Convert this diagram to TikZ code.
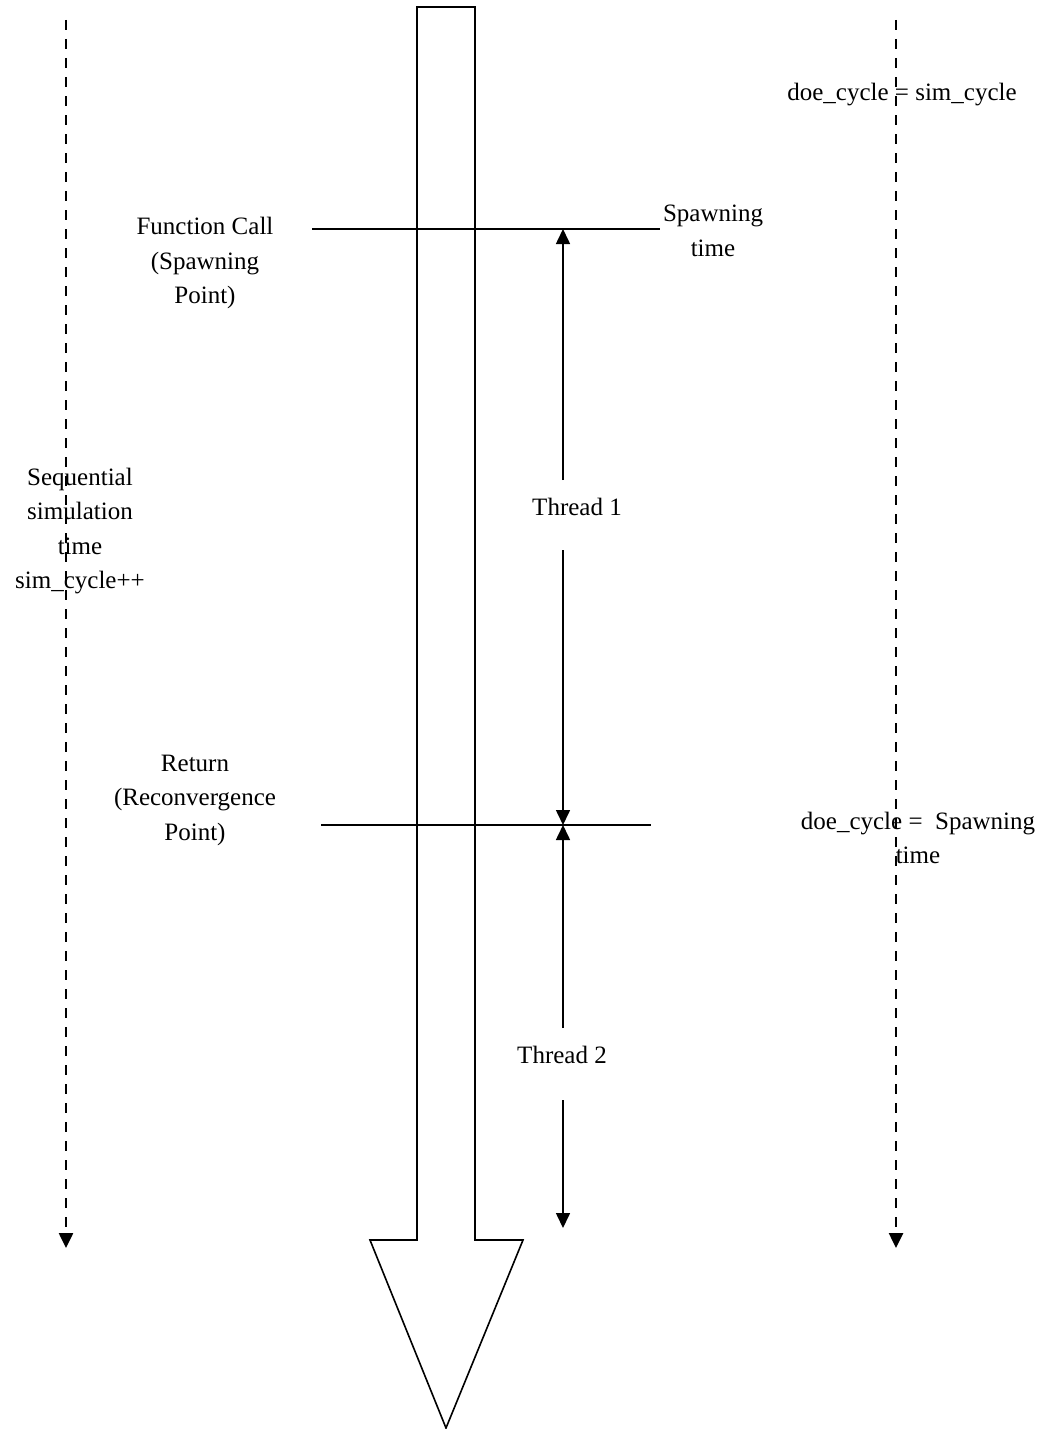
\documentclass[tikz,border=0pt]{standalone}
\usepackage{fontspec}
\setmainfont{Liberation Serif}
\usetikzlibrary{positioning, arrows.meta}

\begin{document}
\begin{tikzpicture}[x=1pt, y=-1pt, >={Triangle[length=15pt, width=14pt]},
    lbl/.style={align=center, font=\fontsize{25}{34.5}\selectfont, inner sep=0pt},
    timeline/.style={->, dash pattern=on 10pt off 9pt, line width=2.5pt},
    marker/.style={line width=1.6pt},
    arrow/.style={->, line width=1.6pt}]
    \useasboundingbox (0,0) rectangle (1052,1429);

    % labels
    \node[lbl] (call) at (205,263) {Function Call\\(Spawning\\Point)};
    \node[lbl] (spawn) at (713,231) {Spawning\\time};
    \node[lbl] (seq) at (80,531) {Sequential\\simulation\\time\\sim\_cycle++};
    \node[lbl] (ret) at (195,800) {Return\\(Reconvergence\\Point)};
    \node[lbl] (doe1) at (902,95) {doe\_cycle = sim\_cycle};
    \node[lbl] (doe2) at (918,838) {doe\_cycle =\ \ Spawning\\time};
    \node[lbl] (t1) at (577,507) {Thread 1};
    \node[lbl] (t2) at (562,1055) {Thread 2};

    % time lines
    \coordinate (seq-top) at (66,20);
    \coordinate (seq-end) at (66,1248);
    \coordinate (doe-top) at (896,20);
    \coordinate (doe-end) at (896,1248);
    \draw[timeline] (seq-top) -- (seq-end);
    \draw[timeline] (doe-top) -- (doe-end);

    % program flow
    \draw[marker] (417,7) -- (475,7) -- (475,1240) -- (523,1240) -- (446,1428)
        -- (370,1240) -- (417,1240) -- cycle;

    % spawning and reconvergence points
    \coordinate (call-l) at (312,229);
    \coordinate (call-r) at (660,229);
    \coordinate (ret-l) at (321,825);
    \coordinate (ret-r) at (651,825);
    \draw[marker] (call-l) -- (call-r);
    \draw[marker] (ret-l) -- (ret-r);

    % threads
    \coordinate (t1-top) at (563,229);
    \coordinate (t1-up) at (563,480);
    \coordinate (t1-dn) at (563,550);
    \coordinate (t1-bot) at (563,825);
    \draw[arrow] (t1-up) -- (t1-top);
    \draw[arrow] (t1-dn) -- (t1-bot);
    \coordinate (t2-up) at (563,1028);
    \coordinate (t2-dn) at (563,1100);
    \coordinate (t2-bot) at (563,1228);
    \draw[arrow] (t2-up) -- (t1-bot);
    \draw[arrow] (t2-dn) -- (t2-bot);
\end{tikzpicture}
\end{document}
